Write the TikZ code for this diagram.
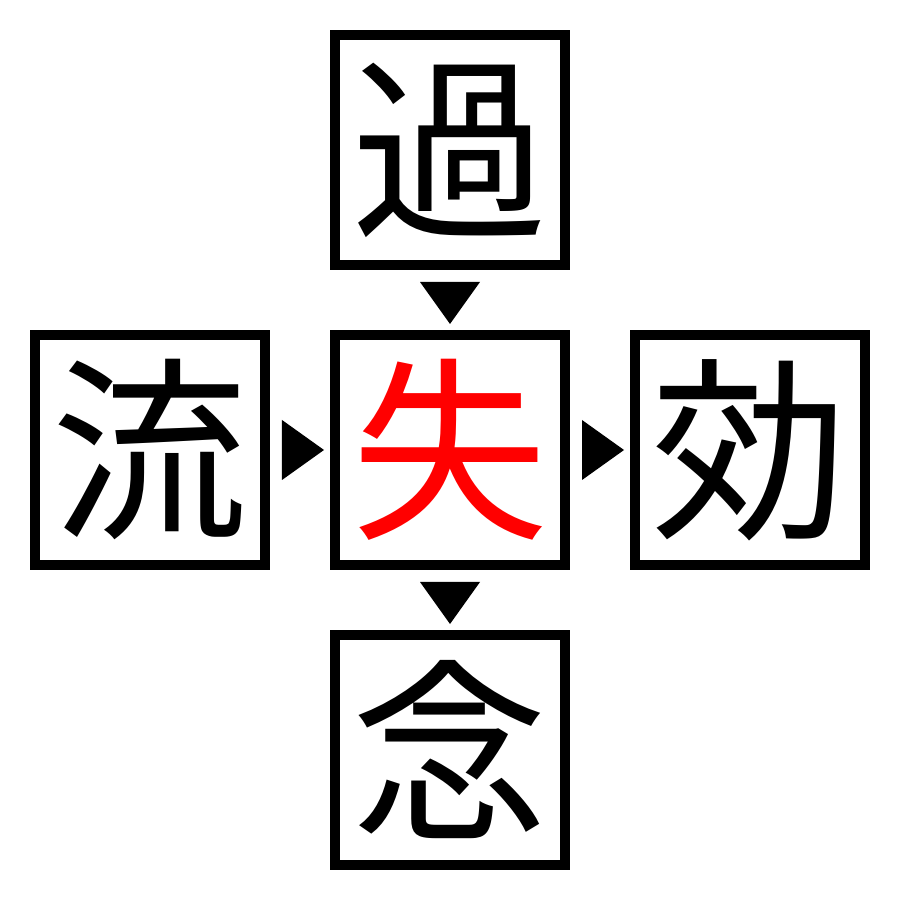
\documentclass[tikz,border=0pt]{standalone}
\usepackage{fontspec}
\newfontfamily\cjk{Noto Sans CJK JP}
\usepackage{tikz}
\usetikzlibrary{positioning,calc}

\begin{document}
\begin{tikzpicture}[
    charbox/.style={draw, line width=0.1cm, minimum size=2.3cm, inner sep=0pt,
        font=\cjk\fontsize{56}{56}\selectfont},
    pointer/.style={fill=black}
]
    % Canvas
    \useasboundingbox (0,0) rectangle (9,9);

    % Boxes
    \node[charbox, text=red] (mid) at (4.5,4.5) {失};
    \node[charbox, above=0.6cm of mid] (top) {過};
    \node[charbox, below=0.6cm of mid] (bottom) {念};
    \node[charbox, left=0.6cm of mid] (left) {流};
    \node[charbox, right=0.6cm of mid] (right) {効};

    % Pointers
    \fill[pointer] ($(top.south)+(-0.3,-0.12)$) -- ++(0.6,0) -- ($(mid.north)+(0,0.06)$) -- cycle;
    \fill[pointer] ($(mid.south)+(-0.3,-0.12)$) -- ++(0.6,0) -- ($(bottom.north)+(0,0.06)$) -- cycle;
    \fill[pointer] ($(left.east)+(0.12,0.3)$) -- ++(0,-0.6) -- ($(mid.west)+(-0.06,0)$) -- cycle;
    \fill[pointer] ($(mid.east)+(0.12,0.3)$) -- ++(0,-0.6) -- ($(right.west)+(-0.06,0)$) -- cycle;
\end{tikzpicture}
\end{document}
